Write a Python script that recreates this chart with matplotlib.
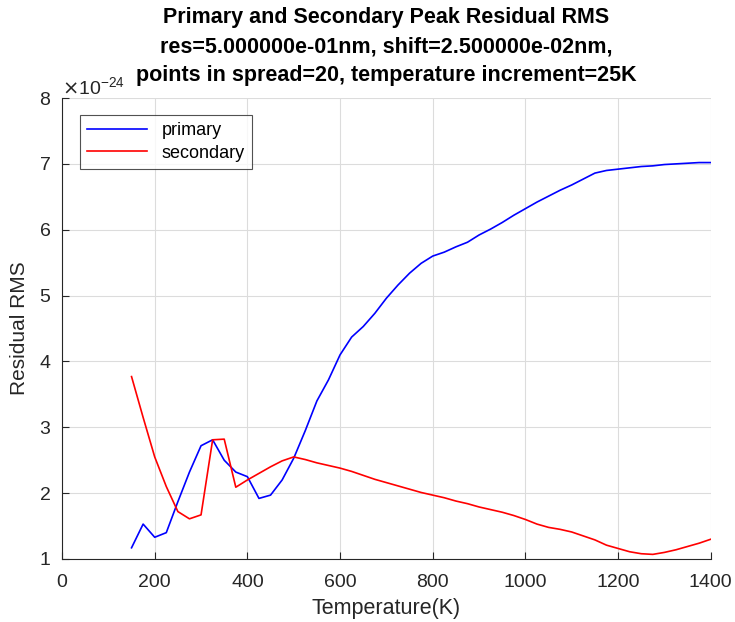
import numpy as np
import matplotlib
matplotlib.use("Agg")
import matplotlib.pyplot as plt
from matplotlib.ticker import ScalarFormatter

plt.rcParams['font.family'] = ['Liberation Sans', 'DejaVu Sans']

# temperatures, 25K steps
temps = list(range(150, 1401, 25))

primary = [1.17, 1.53, 1.33, 1.40,
           1.87, 2.32, 2.72, 2.81, 2.50, 2.32, 2.25, 1.92, 1.97, 2.20,
           2.53, 2.95, 3.40, 3.72, 4.10, 4.37, 4.53, 4.73, 4.96, 5.16,
           5.34, 5.49, 5.60, 5.66, 5.74, 5.81, 5.92, 6.01, 6.11, 6.22,
           6.32, 6.42, 6.51, 6.60, 6.68, 6.77, 6.86, 6.90, 6.92, 6.94,
           6.96, 6.97, 6.99, 7.00, 7.01, 7.02, 7.02]
secondary = [3.77, 3.15, 2.55, 2.10,
             1.72, 1.61, 1.67, 2.81, 2.82, 2.09, 2.20, 2.30, 2.40, 2.49,
             2.55, 2.51, 2.46, 2.42, 2.38, 2.33, 2.27, 2.21, 2.16, 2.11,
             2.06, 2.01, 1.97, 1.93, 1.88, 1.84, 1.79, 1.75, 1.71, 1.66,
             1.60, 1.53, 1.48, 1.45, 1.41, 1.35, 1.29, 1.21, 1.16, 1.11,
             1.08, 1.07, 1.10, 1.14, 1.19, 1.24, 1.30]
scale = 1e-24

fig = plt.figure(figsize=(7.35, 6.22), dpi=100)
ax = fig.add_axes([0.0844, 0.1013, 0.8826, 0.7411])

ax.plot(temps, np.array(primary) * scale, color='b', lw=1.2, label='primary')
ax.plot(temps, np.array(secondary) * scale, color='r', lw=1.2, label='secondary')

ax.set_xlim(0, 1400)
ax.set_ylim(1e-24, 8e-24)
ax.set_xticks(range(0, 1401, 200))
ax.set_yticks(np.arange(1, 9) * scale)

fmt = ScalarFormatter(useMathText=True)
fmt.set_powerlimits((0, 0))
ax.yaxis.set_major_formatter(fmt)
ax.yaxis.get_offset_text().set_fontsize(14)
ax.yaxis.get_offset_text().set_color('#404040')

ax.grid(True, color='#dcdcdc', lw=0.8)
ax.set_axisbelow(True)
for s in ['top', 'right']:
    ax.spines[s].set_visible(False)
for s in ['left', 'bottom']:
    ax.spines[s].set_color('#262626')
ax.tick_params(direction='in', length=5, labelsize=14, colors='#262626')
ax.tick_params(axis='x', pad=11)
ax.tick_params(axis='y', pad=8)

ax.set_xlabel('Temperature(K)', fontsize=15.5, color='#262626', labelpad=5)
ax.set_ylabel('Residual RMS', fontsize=15, color='#262626', labelpad=7)
ax.set_title('Primary and Secondary Peak Residual RMS\n'
             'res=5.000000e-01nm, shift=2.500000e-02nm,\n'
             'points in spread=20, temperature increment=25K',
             fontsize=15.5, fontweight='bold', linespacing=1.5, pad=12)

leg = ax.legend(loc='upper left', bbox_to_anchor=(0.028, 0.963), fontsize=13,
                frameon=True, fancybox=False, edgecolor='#262626',
                handlelength=3.3, borderpad=0.4, labelspacing=0.3,
                borderaxespad=0)
leg.get_frame().set_linewidth(0.8)

fig.savefig('out.png', dpi=100)
